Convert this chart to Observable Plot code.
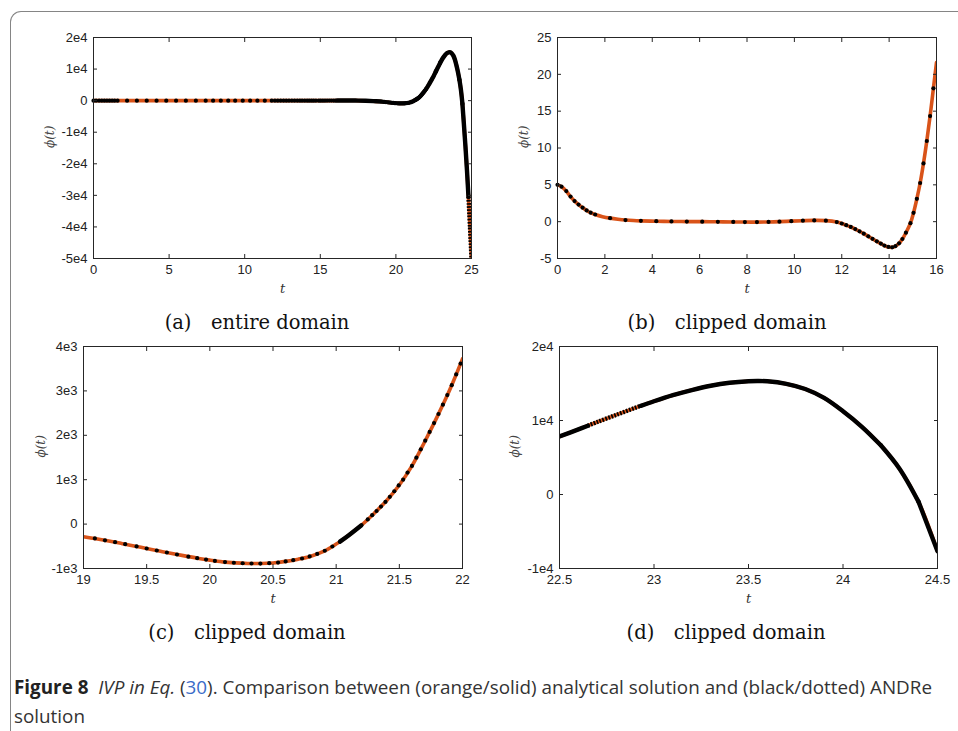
<!DOCTYPE html>
<html><head><meta charset="utf-8">
<script src="https://cdn.jsdelivr.net/npm/d3@7"></script>
<script src="https://cdn.jsdelivr.net/npm/@observablehq/plot@0.6"></script>
<style>
body{margin:0;background:#fff;}
#wrap{position:relative;width:958px;height:731px;overflow:hidden;background:#fff;}
#border{position:absolute;left:10px;top:11px;width:1000px;height:800px;border-left:1.5px solid #858585;border-top:1.5px solid #858585;border-top-left-radius:11px;}
.panel{position:absolute;}
.sub{position:absolute;font-family:"DejaVu Serif",serif;font-size:19.5px;color:#111;white-space:pre;transform:translate(-50%,-50%);line-height:1;}
#caption{position:absolute;left:14px;top:673px;font-family:"Open Sans","DejaVu Sans",sans-serif;font-size:19px;line-height:29px;color:#333;white-space:nowrap;transform-origin:0 0;}
#caption b{color:#222;}
#caption .ref{color:#3a6cc8;}
</style></head>
<body>
<div id="wrap">
  <div id="border"></div>
  <div class="panel" id="pa"></div>
  <div class="panel" id="pb"></div>
  <div class="panel" id="pc"></div>
  <div class="panel" id="pd"></div>
  <div class="sub" style="left:257px;top:323px">(a)&#8195;entire domain</div>
  <div class="sub" style="left:727px;top:323px">(b)&#8195;clipped domain</div>
  <div class="sub" style="left:247px;top:633px">(c)&#8195;clipped domain</div>
  <div class="sub" style="left:726px;top:633px">(d)&#8195;clipped domain</div>
  <div id="caption"><span id="line1"><b>Figure 8</b>&nbsp; <i>IVP in Eq.</i> (<span class="ref">30</span>). Comparison between (orange/solid) analytical solution and (black/dotted) ANDRe</span><br>solution</div>
</div>
<script>
// ---- analytical solution (orange / solid) ----
const tAnalytic = [0,0.17,0.37,0.55,0.72,0.89,1.06,1.23,1.40,1.59,1.9,2.22,2.55,2.87,3.2,3.52,4.17,4.81,5.46,6.11,6.77,7.42,7.91,8.42,8.91,9.37,9.87,10.36,10.84,11.33,11.79,12.0,12.19,12.38,12.57,12.75,12.93,13.12,13.3,13.48,13.65,13.8,13.97,14.13,14.27,14.42,14.56,14.71,14.9,15.03,15.17,15.31,15.45,15.59,15.73,15.87,16.0,16.25,16.5,16.75,17,17.5,18,18.5,19.0,19.1,19.2,19.3,19.4,19.5,19.6,19.7,19.8,19.9,20.0,20.1,20.2,20.3,20.4,20.5,20.6,20.7,20.8,20.9,21.0,21.03,21.1,21.2,21.3,21.4,21.5,21.6,21.7,21.8,21.9,22.0,22.1,22.2,22.3,22.4,22.5,22.6,22.65,22.7,22.8,22.9,22.93,23.0,23.1,23.2,23.3,23.4,23.5,23.55,23.6,23.7,23.8,23.9,24.0,24.1,24.2,24.3,24.4,24.5,24.6,24.7,24.8,24.9,25.0];
const phiAnalytic = [5.0,4.75,4.15,3.4,2.8,2.32,1.9,1.52,1.22,0.97,0.68,0.48,0.33,0.22,0.15,0.11,0.06,0.03,0.01,0,-0.02,-0.04,-0.05,-0.06,-0.04,0,0.07,0.13,0.17,0.14,-0.05,-0.25,-0.48,-0.72,-1.0,-1.31,-1.63,-1.99,-2.33,-2.67,-2.98,-3.24,-3.43,-3.48,-3.32,-2.94,-2.35,-1.5,-0.2,1.2,3.1,5.25,7.9,10.95,14.34,18.1,21.6,33,43,47,43,15,-45,-150,-285,-330,-380,-435,-492,-549,-606,-662,-716,-767,-812,-850,-873,-886,-888,-875,-840,-790,-722,-615,-450,-395,-250,-25,240,530,880,1310,1850,2420,3030,3720,4460,5250,6080,6950,7840,8800,9300,9800,10760,11700,11980,12600,13420,14120,14700,15100,15310,15340,15300,14950,14250,13050,11250,9150,6650,3450,-1000,-7660,-14500,-22000,-30500,-40000,-50000];

// ---- ANDRe solution (black / dotted): individually visible steps ----
const tAndre = [0,0.17,0.37,0.55,0.72,0.89,1.06,1.23,1.40,1.59,2.22,2.87,3.52,4.17,4.81,5.46,6.11,6.77,7.42,7.91,8.42,8.91,9.37,9.87,10.36,10.84,11.33,11.79,12.0,12.19,12.38,12.57,12.75,12.93,13.12,13.3,13.48,13.65,13.8,13.97,14.13,14.27,14.42,14.56,14.71,14.9,15.03,15.17,15.31,15.45,15.59,15.73,15.87,
  19.09,19.17,19.25,19.33,19.42,19.50,19.58,19.66,19.74,19.83,19.90,19.97,20.04,20.12,20.19,20.26,20.33,20.40,20.47,20.54,20.60,20.66,20.73,20.79,20.85,20.91,20.97,
  21.25,21.285,21.32,21.355,21.39,21.425,21.46,21.495,21.53,21.565,21.60,21.635,21.67,21.705,21.74,21.775,21.81,21.845,21.88,21.915,21.95,21.985];
const phiAndre = [5.0,4.75,4.15,3.4,2.8,2.32,1.9,1.52,1.22,0.97,0.48,0.22,0.11,0.06,0.03,0.01,0,-0.02,-0.04,-0.05,-0.06,-0.04,0,0.07,0.13,0.17,0.14,-0.05,-0.25,-0.48,-0.72,-1.0,-1.31,-1.63,-1.99,-2.33,-2.67,-2.98,-3.24,-3.43,-3.48,-3.32,-2.94,-2.35,-1.5,-0.2,1.2,3.1,5.25,7.9,10.95,14.34,18.1,
  -322,-365,-407,-452,-503,-549,-595,-640,-685,-733,-767,-800,-830,-855,-871,-882,-887,-888,-881,-866,-840,-812,-775,-728,-672,-600,-505,
  105,200,295,395,500,615,740,870,1000,1160,1310,1495,1685,1880,2075,2275,2480,2690,2905,3130,3370,3615];
// ANDRe stretches where the steps are so dense they merge into a band
const denseFrom = [16.0, 21.03, 22.0, 22.93, 24.4];
const denseTo   = [19.0, 21.2, 22.65, 24.2, 24.8];
// ANDRe stretches with a known number of small steps (drawn as a dotted line)
const dottedFrom  = [22.65, 24.2, 24.8];
const dottedTo    = [22.93, 24.4, 25.0];
const dottedSteps = [18, 60, 20];

// ---- axes ----
const xTicksA = [0,5,10,15,20,25], xLabelsA = ["0","5","10","15","20","25"];
const yTicksA = [-5e4,-4e4,-3e4,-2e4,-1e4,0,1e4,2e4], yLabelsA = ["-5e4","-4e4","-3e4","-2e4","-1e4","0","1e4","2e4"];
const xTicksB = [0,2,4,6,8,10,12,14,16], xLabelsB = ["0","2","4","6","8","10","12","14","16"];
const yTicksB = [-5,0,5,10,15,20,25], yLabelsB = ["-5","0","5","10","15","20","25"];
const xTicksC = [19,19.5,20,20.5,21,21.5,22], xLabelsC = ["19","19.5","20","20.5","21","21.5","22"];
const yTicksC = [-1e3,0,1e3,2e3,3e3,4e3], yLabelsC = ["-1e3","0","1e3","2e3","3e3","4e3"];
const xTicksD = [22.5,23,23.5,24,24.5], xLabelsD = ["22.5","23","23.5","24","24.5"];
const yTicksD = [-1e4,0,1e4,2e4], yLabelsD = ["-1e4","0","1e4","2e4"];

const ORANGE = "#D95319";
const analytic = tAnalytic.map((t,i)=>({t, phi: phiAnalytic[i]}));
const andre = tAndre.map((t,i)=>({t, phi: phiAndre[i]}));
const seg = (a,b) => analytic.filter(d => d.t >= a - 1e-9 && d.t <= b + 1e-9);

const ML=70, MT=15, MR=15, MB=50;
function panel(el, left, top, w, h, xTicks, xLabels, yTicks, yLabels, yLabDx){
  const xd = [xTicks[0], xTicks[xTicks.length-1]], yd = [yTicks[0], yTicks[yTicks.length-1]];
  const xm = new Map(xTicks.map((v,i)=>[v,xLabels[i]])), ym = new Map(yTicks.map((v,i)=>[v,yLabels[i]]));
  const inX = d => d.t >= xd[0] - 1e-9 && d.t <= xd[1] + 1e-9;
  const dots = andre.filter(d => inX(d) && d.phi >= yd[0] && d.phi <= yd[1]);
  const common = {x:"t", y:"phi", curve:"catmull-rom", clip:true};
  // keep only stretches that have at least two samples inside this panel
  const denseSegs = denseFrom.map((f,i)=>seg(f,denseTo[i]).filter(inX)).filter(s=>s.length>1);
  const dottedSegs = dottedFrom.map((f,i)=>({data: seg(f,dottedTo[i]).filter(inX), steps: dottedSteps[i]})).filter(s=>s.data.length>1);
  const node = Plot.plot({
    width: w+ML+MR, height: h+MT+MB, marginLeft:ML, marginTop:MT, marginRight:MR, marginBottom:MB,
    x:{domain:xd}, y:{domain:yd},
    style:{fontFamily:"'Liberation Sans', Arial, sans-serif", fontSize:"13px", color:"#222", background:"transparent", overflow:"visible"},
    marks:[
      Plot.line(analytic.filter(inX), {...common, stroke:ORANGE, strokeWidth:3.6}),
      ...denseSegs.map(s=>Plot.line(s, {...common, stroke:"#000", strokeWidth:4.4})),
      ...dottedSegs.map(s=>Plot.line(s.data, {...common, stroke:"#000", strokeWidth:4.4})),
      Plot.dot(dots, {x:"t", y:"phi", r:2.1, fill:"#000", stroke:"none"}),
      Plot.frame({stroke:"#262626", strokeWidth:1}),
      Plot.axisX({anchor:"bottom", ticks:xTicks, tickSize:0, tickPadding:6, tickFormat:d=>xm.get(d), label:null}),
      Plot.axisX({anchor:"bottom", ticks:xTicks, tickSize:-4, tickFormat:()=>"", label:null, stroke:"#262626"}),
      Plot.axisX({anchor:"top", ticks:xTicks, tickSize:-4, tickFormat:()=>"", label:null, stroke:"#262626"}),
      Plot.axisY({anchor:"left", ticks:yTicks, tickSize:0, tickPadding:6, tickFormat:d=>ym.get(d), label:null}),
      Plot.axisY({anchor:"left", ticks:yTicks, tickSize:-4, tickFormat:()=>"", label:null, stroke:"#262626"}),
      Plot.axisY({anchor:"right", ticks:yTicks, tickSize:-4, tickFormat:()=>"", label:null, stroke:"#262626"}),
      Plot.text(["t"], {text:d=>d, frameAnchor:"bottom", dy:34, fontFamily:"'DejaVu Serif', serif", fontStyle:"italic", fontSize:13, fill:"#333"}),
      Plot.text(["\u03D5(t)"], {text:d=>d, frameAnchor:"left", dx:yLabDx, rotate:-90, fontFamily:"'DejaVu Serif', serif", fontStyle:"italic", fontSize:12, fill:"#444"})
    ]
  });
  const box = document.getElementById(el);
  box.style.left = (left-ML)+"px"; box.style.top = (top-MT)+"px";
  box.appendChild(node);
  // line marks in order: analytic, dense stretches, dotted stretches
  const lineGroups = node.querySelectorAll('g[aria-label="line"]');
  dottedSegs.forEach((s,i)=>{
    const g = lineGroups[1 + denseSegs.length + i];
    const p = g && g.querySelector("path");
    if (!p) return;
    const period = p.getTotalLength() / s.steps;
    if (period >= 2) {
      p.setAttribute("stroke-dasharray", `${(0.55*period).toFixed(2)},${(0.45*period).toFixed(2)}`);
      p.setAttribute("stroke-linecap", "butt");
    }
  });
}
panel("pa", 93, 37, 378, 221, xTicksA, xLabelsA, yTicksA, yLabelsA, -43);
panel("pb", 557, 37, 379, 221, xTicksB, xLabelsB, yTicksB, yLabelsB, -33);
panel("pc", 83, 346, 379, 222, xTicksC, xLabelsC, yTicksC, yLabelsC, -42);
panel("pd", 559, 346, 378, 222, xTicksD, xLabelsD, yTicksD, yLabelsD, -44);

// fit caption first line to the reference width
const cap = document.getElementById("caption");
const w1 = document.getElementById("line1").getBoundingClientRect().width;
if (w1 > 0) cap.style.transform = `scaleX(${918/w1})`;
</script>
</body></html>
